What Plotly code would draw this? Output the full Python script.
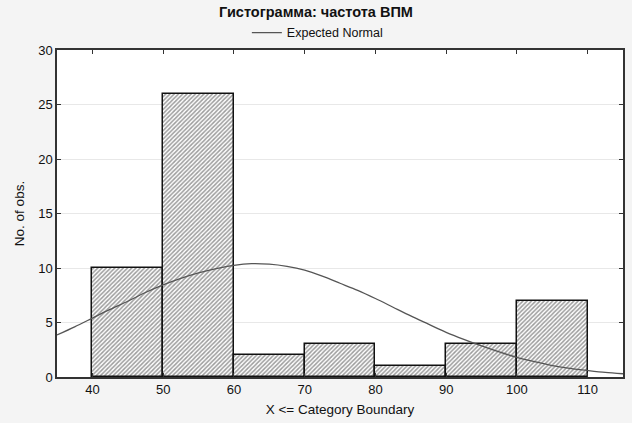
import plotly.graph_objects as go

# Data
bin_lower = [40, 50, 60, 70, 80, 90, 100]
bin_width = 10
counts = [10, 26, 2, 3, 1, 3, 7]

curve_x = [35, 37.5, 40, 42.5, 45, 47.5, 50, 52.5, 55, 57.5, 60, 62.5, 65, 67.5, 70, 72.5, 75,
           77.5, 80, 82.5, 85, 87.5, 90, 92.5, 95, 97.5, 100, 102.5, 105, 107.5, 110, 112.5, 115]
curve_y = [3.85, 4.6, 5.4, 6.2, 6.95, 7.75, 8.45, 9.05, 9.55, 9.95, 10.25, 10.4, 10.35, 10.15, 9.8, 9.25, 8.6,
           7.95, 7.2, 6.4, 5.6, 4.85, 4.1, 3.45, 2.85, 2.3, 1.8, 1.4, 1.05, 0.8, 0.6, 0.42, 0.3]

x_ticks = [40, 50, 60, 70, 80, 90, 100, 110]

font_family = "Liberation Sans, Arial, sans-serif"

fig = go.Figure()
fig.add_trace(go.Bar(
    x=[b + bin_width / 2 for b in bin_lower],
    y=counts,
    width=[bin_width] * len(counts),
    marker=dict(
        color="white",
        line=dict(color="#111111", width=1.5),
        pattern=dict(shape="/", size=3, solidity=0.5, fgcolor="#3a3a3a", bgcolor="white"),
    ),
    showlegend=False,
    hoverinfo="x+y",
))
fig.add_trace(go.Scatter(
    x=curve_x, y=curve_y, mode="lines", name="Expected Normal",
    line=dict(color="#555555", width=1.3, shape="spline", smoothing=0.8),
))

fig.update_layout(
    width=632, height=423,
    margin=dict(l=57, r=7, t=50, b=46),
    paper_bgcolor="#f4f4f4",
    plot_bgcolor="white",
    font=dict(family=font_family, size=13, color="#111111"),
    title=dict(text="<b>Гистограмма: частота ВПМ</b>", x=0.5, xanchor="center", y=0.972, yanchor="middle",
               font=dict(size=14.5, family=font_family, color="#111111")),
    legend=dict(orientation="h", x=0.46, xanchor="center", y=1.052, yanchor="middle",
                bgcolor="rgba(0,0,0,0)", font=dict(size=12.5), itemwidth=30),
    bargap=0,
    xaxis=dict(range=[35, 115], tickvals=x_ticks, ticks="inside", ticklen=4, tickcolor="#333",
               showline=True, linecolor="#333", linewidth=1.5, mirror="ticks", showgrid=False,
               zeroline=False, tickfont=dict(size=13),
               title=dict(text="X <= Category Boundary", standoff=8, font=dict(size=13.5))),
    yaxis=dict(range=[0, 30], dtick=5, ticks="inside", ticklen=4, tickcolor="#333",
               showline=True, linecolor="#333", linewidth=1.5, mirror="ticks",
               showgrid=True, gridcolor="#e8e8e8", gridwidth=1, zeroline=False, tickfont=dict(size=13),
               title=dict(text="No. of obs.", standoff=10, font=dict(size=13.5))),
)

fig.write_html("out.html")
